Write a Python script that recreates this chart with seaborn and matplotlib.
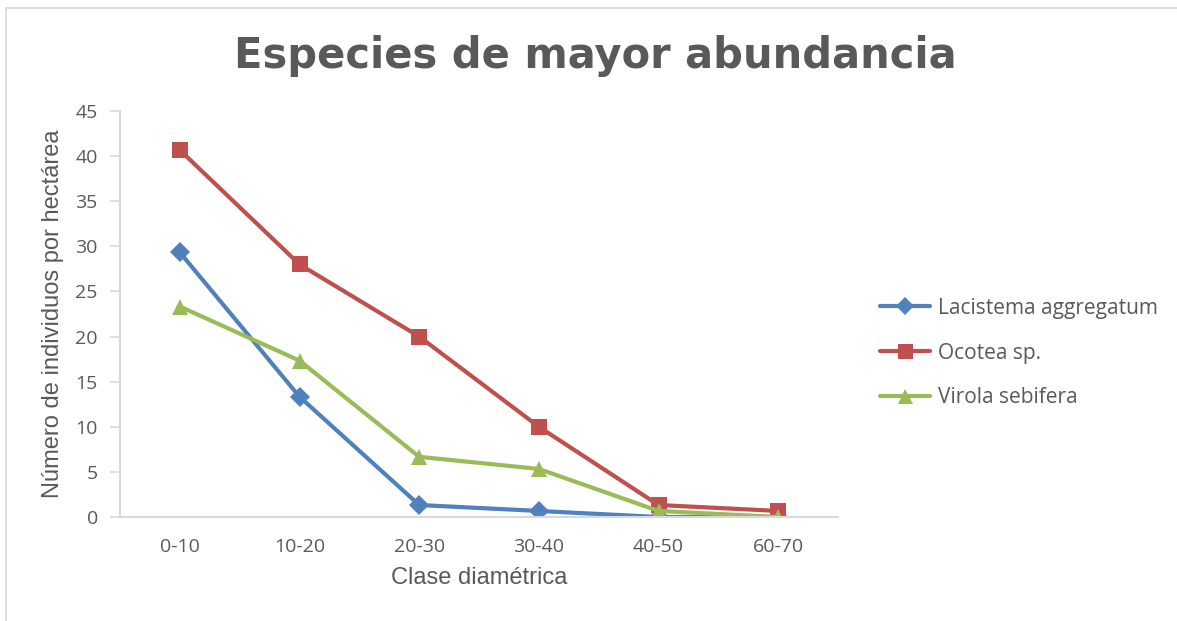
import matplotlib
matplotlib.use("Agg")
import matplotlib.pyplot as plt
from matplotlib.patches import Rectangle
from matplotlib.lines import Line2D
import seaborn as sns
import pandas as pd

categories = ["0-10", "10-20", "20-30", "30-40", "40-50", "60-70"]
lacistema = [29.33, 13.33, 1.33, 0.67, 0.0, 0.0]
ocotea = [40.67, 28.0, 20.0, 10.0, 1.33, 0.67]
virola = [23.33, 17.33, 6.67, 5.33, 0.67, 0.0]
series_names = ["Lacistema aggregatum", "Ocotea sp.", "Virola sebifera"]
y_ticks = [0, 5, 10, 15, 20, 25, 30, 35, 40, 45]

colors = {"Lacistema aggregatum": "#4F81BD", "Ocotea sp.": "#C0504D", "Virola sebifera": "#9BBB59"}
markers = {"Lacistema aggregatum": "D", "Ocotea sp.": "s", "Virola sebifera": "^"}
msizes = {"Lacistema aggregatum": 10, "Ocotea sp.": 12, "Virola sebifera": 12}

rows = []
for name, vals in zip(series_names, [lacistema, ocotea, virola]):
    for i, (c, v) in enumerate(zip(categories, vals)):
        rows.append({"clase": c, "pos": i, "valor": v, "especie": name})
df = pd.DataFrame(rows)

sns.set_theme(style="white")
plt.rcParams["font.family"] = ["Liberation Sans", "DejaVu Sans"]
text_color = "#595959"
axis_color = "#D9D9D9"
tick_family = ["Open Sans", "DejaVu Sans"]

fig = plt.figure(figsize=(11.77, 6.21), dpi=100)
ax = fig.add_axes([120 / 1177, 1 - 517 / 621, 718 / 1177, 406 / 621])

for name in series_names:
    sub = df[df["especie"] == name]
    sns.lineplot(data=sub, x="pos", y="valor", ax=ax, color=colors[name],
                 marker=markers[name], markersize=msizes[name], linewidth=3.0,
                 markeredgewidth=0, sort=False, label=name, legend=False)

ax.set_xlim(-0.5, 5.5)
ax.set_ylim(0, 45)
ax.set_xticks(range(len(categories)))
ax.set_xticklabels(categories, fontsize=14, color=text_color, family=tick_family)
ax.set_yticks(y_ticks)
ax.set_yticklabels([str(t) for t in y_ticks], fontsize=14, color=text_color, family=tick_family)
ax.tick_params(axis="y", length=7, width=1.2, color=axis_color, pad=9, left=True)
ax.tick_params(axis="x", length=0, pad=15)

for s in ["top", "right"]:
    ax.spines[s].set_visible(False)
for s in ["left", "bottom"]:
    ax.spines[s].set_color(axis_color)
    ax.spines[s].set_linewidth(1.5)

ax.set_xlabel("Clase diamétrica", fontsize=17, color=text_color, labelpad=8)
ax.set_ylabel("Número de individuos por hectárea", fontsize=17, color=text_color, labelpad=8)

fig.text(595 / 1177, 1 - 56 / 621, "Especies de mayor abundancia", ha="center", va="center",
         fontsize=30, fontweight="bold", color=text_color, family=["DejaVu Sans"])

handles = [Line2D([0], [0], color=colors[n], marker=markers[n], markersize=msizes[n] * 0.9,
                  linewidth=3.0, markeredgewidth=0) for n in series_names]
leg = ax.legend(handles, series_names, loc="center left", bbox_to_anchor=((880 - 120) / 718, (517 - 353) / 406),
                frameon=False, handlelength=2.4, handletextpad=0.4, borderpad=0, borderaxespad=0,
                labelspacing=1.15, prop={"family": tick_family, "size": 15})
for t in leg.get_texts():
    t.set_color(text_color)

fig.patches.append(Rectangle((6 / 1177, -0.05), 1.2, 1 - 8 / 621 + 0.05, transform=fig.transFigure,
                             fill=False, edgecolor=axis_color, linewidth=1.2))

fig.savefig("out.png", dpi=100, facecolor="white")
